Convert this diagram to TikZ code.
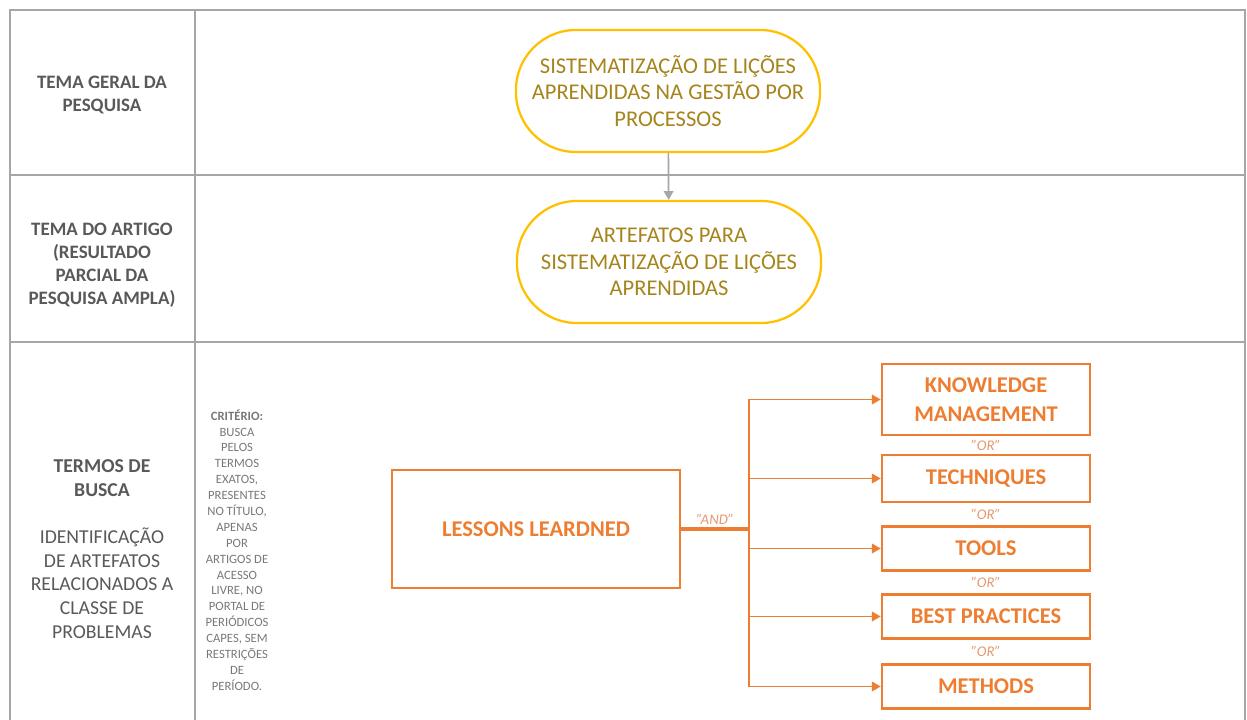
\documentclass[tikz,border=0pt]{standalone}
\usepackage{fontspec}
\setmainfont{Carlito}
\usepackage{xcolor}
\usetikzlibrary{calc}
\usetikzlibrary{arrows.meta}
\definecolor{gridgray}{RGB}{166,166,166}
\definecolor{labelgray}{RGB}{89,89,89}
\definecolor{notegray}{RGB}{120,120,120}
\definecolor{pillgold}{RGB}{255,192,0}
\definecolor{pilltext}{RGB}{166,132,28}
\definecolor{boxorange}{RGB}{237,125,49}
\definecolor{ororange}{RGB}{230,150,110}
\begin{document}
\begin{tikzpicture}[x=0.025cm,y=-0.025cm]
%
\tikzstyle{rowl}=[text=labelgray,font=\fontsize{13.5}{16.4}\selectfont\bfseries,align=center]
\tikzstyle{pill}=[draw=pillgold,line width=1.6pt,shape=rectangle,rounded corners=1.5cm,minimum width=7.6cm,minimum height=3.05cm,text=pilltext,font=\fontsize{16}{18.8}\selectfont,align=center]
\tikzstyle{obox}=[draw=boxorange,line width=1.8pt,shape=rectangle,minimum width=5.2cm,minimum height=1.1cm,text=boxorange,font=\fontsize{16}{20.5}\selectfont\bfseries,align=center]
\tikzstyle{orl}=[text=ororange,font=\fontsize{10.5}{12}\selectfont\itshape]
%
\useasboundingbox (0,0) rectangle (1247,720);
%
% table grid
\draw[gridgray,line width=1.5pt] (10,720) -- (10,10) -- (1245,10) -- (1245,720);
\draw[gridgray,line width=1.5pt] (10,175) -- (1245,175);
\draw[gridgray,line width=1.5pt] (10,342) -- (1245,342);
\draw[gridgray,line width=1.5pt] (195,10) -- (195,720);
%
% row labels
\node[rowl](r1) at (102,95){TEMA GERAL DA\\PESQUISA};
\node[rowl](r2) at (102,265){TEMA DO ARTIGO\\(RESULTADO\\PARCIAL DA\\PESQUISA AMPLA)};
\node[rowl,font=\fontsize{14}{16.8}\selectfont](r3) at (102,549){\textbf{TERMOS DE}\\\textbf{BUSCA}\\~\\IDENTIFICAÇÃO\\DE ARTEFATOS\\RELACIONADOS A\\CLASSE DE\\PROBLEMAS};
%
\node[text=notegray,font=\fontsize{9}{11.3}\selectfont,align=center](crit) at (237,550){\textbf{CRITÉRIO:}\\BUSCA\\PELOS\\TERMOS\\EXATOS,\\PRESENTES\\NO TÍTULO,\\APENAS\\POR\\ARTIGOS DE\\ACESSO\\LIVRE, NO\\PORTAL DE\\PERIÓDICOS\\CAPES, SEM\\RESTRIÇÕES\\DE\\PERÍODO.};
%
% themes
\node[pill](geral) at (668,91){SISTEMATIZAÇÃO DE LIÇÕES\\APRENDIDAS NA GESTÃO POR\\PROCESSOS};
\node[pill](artigo) at (669,262){ARTEFATOS PARA\\SISTEMATIZAÇÃO DE LIÇÕES\\APRENDIDAS};
\draw[-{Triangle[length=2.2mm,width=2.4mm]},gridgray,line width=1.2pt] (geral) -- (artigo);
%
% search terms
\node[obox,minimum width=7.2cm,minimum height=2.95cm](ll) at (536,529){LESSONS LEARDNED};
\node[obox,minimum height=1.78cm](km) at (986,399.5){KNOWLEDGE\\MANAGEMENT};
\node[obox,minimum height=1.18cm](te) at (986,478.5){TECHNIQUES};
\node[obox](to) at (986,548.5){TOOLS};
\node[obox](bp) at (986,616.5){BEST PRACTICES};
\node[obox](me) at (986,686.5){METHODS};
%
\node[orl](or1) at ($(km.south)!0.5!(te.north)$){"OR"};
\node[orl](or2) at ($(te.south)!0.5!(to.north)$){"OR"};
\node[orl](or3) at ($(to.south)!0.5!(bp.north)$){"OR"};
\node[orl](or4) at ($(bp.south)!0.5!(me.north)$){"OR"};
%
\coordinate (jn) at (749,529);
\draw[boxorange,line width=2.2pt] (ll) -- node[orl,above=-1pt]{"AND"} (jn);
\draw[boxorange,line width=1.2pt] (jn |- km.west) -- (jn |- me.west);
\foreach \b in {km,te,to,bp,me}
  \draw[-{Triangle[length=2.2mm,width=2.4mm]},boxorange,line width=1.2pt] (jn |- \b.west) -- (\b.west);
\end{tikzpicture}
\end{document}
